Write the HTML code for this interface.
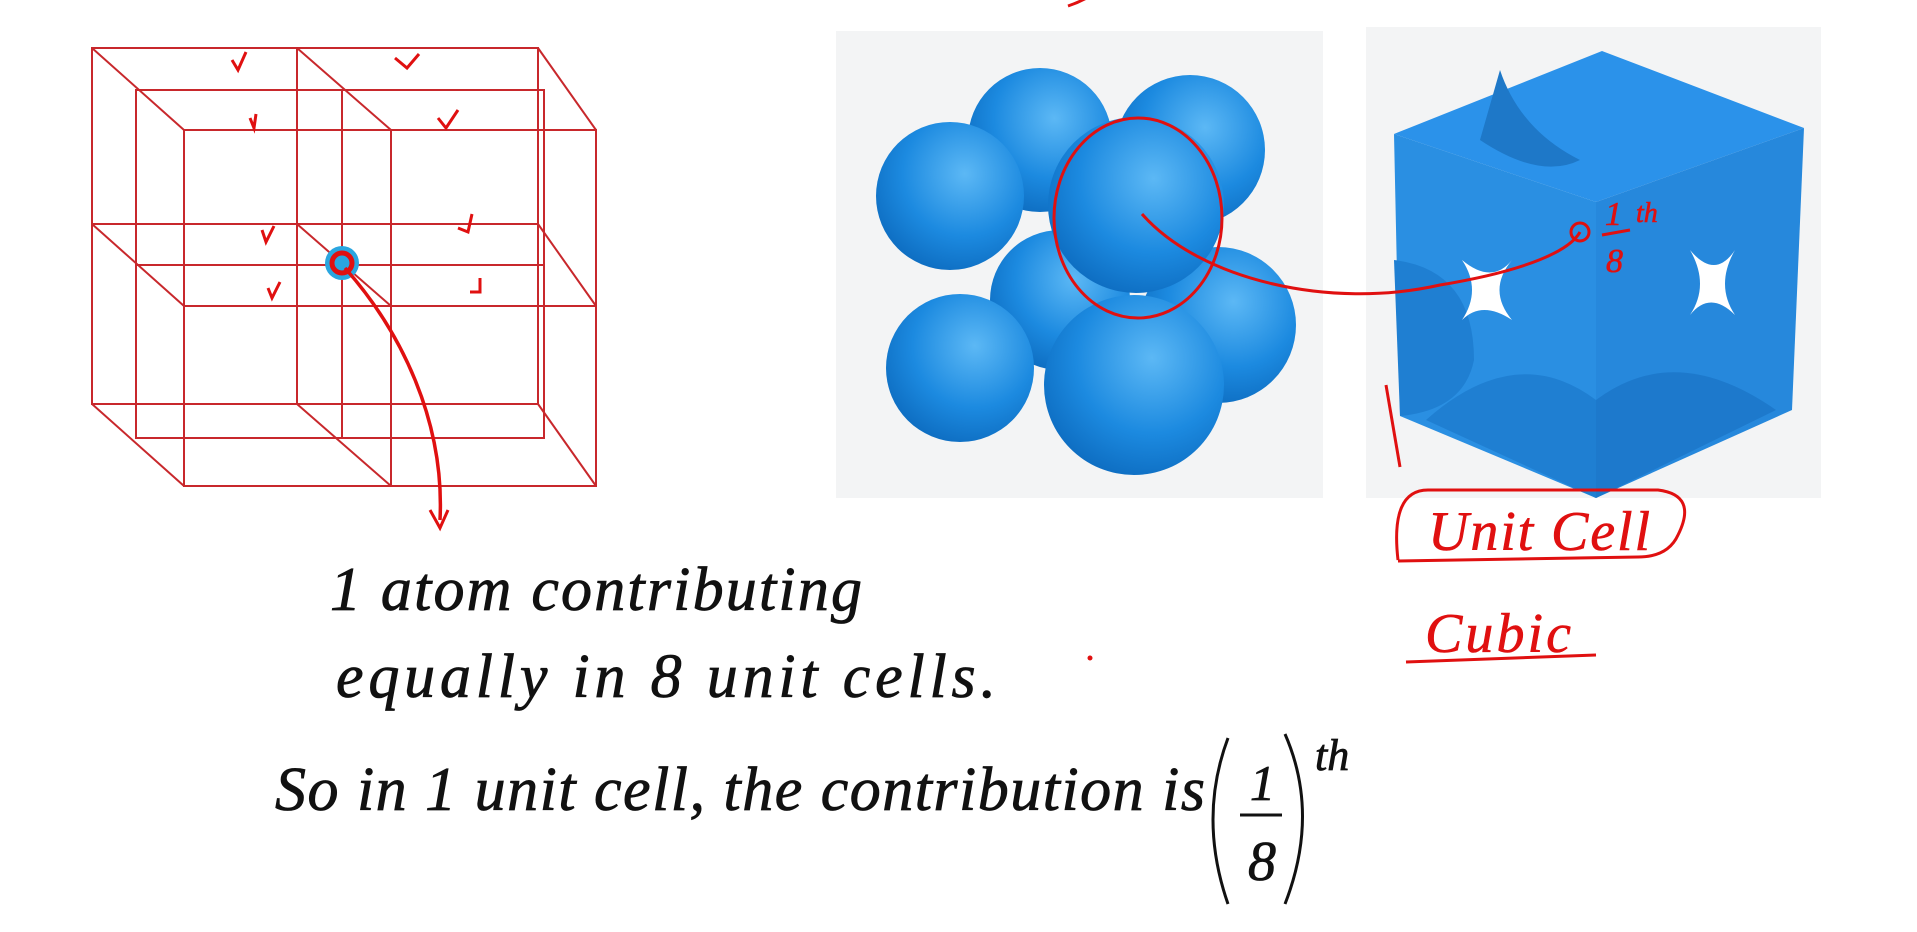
<!DOCTYPE html>
<html><head><meta charset="utf-8"><style>
html,body{margin:0;padding:0;background:#fff;}
svg{display:block;}
.hw{font-family:"Liberation Serif",serif;font-style:italic;fill:#111;stroke:#111;stroke-width:0.8;}
.rt{font-family:"Liberation Serif",serif;font-style:italic;fill:#e01010;stroke:#e01010;stroke-width:0.6;}
</style></head><body>
<svg width="1917" height="932" viewBox="0 0 1917 932">
<defs>
<radialGradient id="sph" cx="0.6" cy="0.35" r="0.7">
<stop offset="0" stop-color="#5cb8f5"/><stop offset="0.6" stop-color="#1c8ae0"/><stop offset="1" stop-color="#0d6cc0"/>
</radialGradient>
</defs>
<g stroke="#c8282c" stroke-width="2" fill="none">
<rect x="92" y="48" width="446" height="356"/>
<line x1="297" y1="48" x2="297" y2="404"/><line x1="92" y1="224" x2="538" y2="224"/>
<rect x="136" y="90" width="408" height="348"/>
<line x1="342" y1="90" x2="342" y2="438"/><line x1="136" y1="265" x2="544" y2="265"/>
<rect x="184" y="130" width="412" height="356"/>
<line x1="391" y1="130" x2="391" y2="486"/><line x1="184" y1="306" x2="596" y2="306"/>
<line x1="92" y1="48" x2="184" y2="130"/><line x1="297" y1="48" x2="391" y2="130"/><line x1="538" y1="48" x2="596" y2="130"/>
<line x1="92" y1="224" x2="184" y2="306"/><line x1="297" y1="224" x2="391" y2="306"/><line x1="538" y1="224" x2="596" y2="306"/>
<line x1="92" y1="404" x2="184" y2="486"/><line x1="297" y1="404" x2="391" y2="486"/><line x1="538" y1="404" x2="596" y2="486"/>
</g>
<g stroke="#e01010" stroke-width="3" fill="none">
<path d="M232 60 l6 10 l8 -18"/><path d="M395 58 l12 10 l12 -14"/><path d="M250 118 l4 10 l2 -14"/><path d="M438 118 l8 10 l12 -18"/>
<path d="M262 230 l4 12 l8 -16"/><path d="M458 228 l10 4 l4 -18"/><path d="M268 288 l4 10 l8 -16"/><path d="M470 292 l10 0 l0 -14"/>
</g>
<circle cx="342" cy="263" r="17" fill="#2aa6e0"/>
<circle cx="342" cy="263" r="10" fill="none" stroke="#e01010" stroke-width="5"/>
<path d="M345 268 C400 330 445 420 440 520" stroke="#e01010" stroke-width="3.5" fill="none"/>
<path d="M430 510 l10 18 l8 -18" stroke="#e01010" stroke-width="3" fill="none"/>
<rect x="836" y="31" width="487" height="467" fill="#f3f4f5"/>
<g>
<circle cx="1040" cy="140" r="72" fill="url(#sph)"/>
<circle cx="1190" cy="150" r="75" fill="url(#sph)"/>
<circle cx="1218" cy="325" r="78" fill="url(#sph)"/>
<circle cx="1060" cy="300" r="70" fill="url(#sph)"/>
<circle cx="950" cy="196" r="74" fill="url(#sph)"/>
<circle cx="960" cy="368" r="74" fill="url(#sph)"/>
<circle cx="1134" cy="385" r="90" fill="url(#sph)"/>
<circle cx="1136" cy="205" r="88" fill="url(#sph)"/>
</g>
<ellipse cx="1138" cy="218" rx="84" ry="100" fill="none" stroke="#e01010" stroke-width="3"/>
<path d="M1068 6 q12 -4 22 -10" stroke="#e01010" stroke-width="3" fill="none"/>
<rect x="1366" y="27" width="455" height="471" fill="#f3f4f5"/>
<g>
<polygon points="1602,51 1804,128 1596,202 1394,134" fill="#2b92ea"/>
<polygon points="1394,134 1596,202 1596,498 1400,416" fill="#2a8fe2"/>
<polygon points="1596,202 1804,128 1792,410 1596,498" fill="#2688dc"/>
<path d="M1394 260 q80 10 80 100 q-10 50 -74 56z" fill="#1f7fd2"/>
<path d="M1596 400 q-80 -60 -170 20 l170 78z" fill="#1f7fd2"/>
<path d="M1596 400 q80 -60 180 10 l-180 88z" fill="#1d79cc"/>
<path d="M1500 70 q20 60 80 90 q-40 20 -100 -20z" fill="#1e78c8"/>
<path d="M1462 260 q30 25 50 0 q-25 30 0 60 q-30 -20 -50 0 q20 -30 0 -60z" fill="#fff"/>
<path d="M1690 250 q25 30 45 0 q-20 35 0 65 q-25 -25 -45 0 q20 -30 0 -65z" fill="#fff"/>
</g>
<path d="M1142 214 C1200 280 1330 310 1440 285 C1530 270 1570 250 1580 232" stroke="#e01010" stroke-width="3" fill="none"/>
<circle cx="1580" cy="232" r="9" fill="none" stroke="#e01010" stroke-width="3"/>
<text class="rt" x="1605" y="225" font-size="34">1</text>
<line x1="1602" y1="235" x2="1630" y2="230" stroke="#e01010" stroke-width="3"/>
<text class="rt" x="1606" y="272" font-size="34">8</text>
<text class="rt" x="1636" y="222" font-size="28">th</text>
<line x1="1386" y1="385" x2="1400" y2="467" stroke="#e01010" stroke-width="3"/>
<path d="M1398 560 q-8 -70 30 -70 l230 0 q40 5 20 45 q-10 22 -40 22 l-240 4" stroke="#e01010" stroke-width="3" fill="none"/>
<text class="rt" x="1428" y="550" font-size="56" textLength="222">Unit Cell</text>
<text class="rt" x="1425" y="652" font-size="56" textLength="146">Cubic</text>
<line x1="1406" y1="662" x2="1596" y2="655" stroke="#e01010" stroke-width="3"/>
<text class="hw" x="330" y="610" font-size="62" textLength="532">1 atom contributing</text>
<text class="hw" x="336" y="697" font-size="62" textLength="660">equally in 8 unit cells.</text>
<text class="hw" x="275" y="810" font-size="62" textLength="930">So in 1 unit cell, the contribution is</text>
<path d="M1228 738 q-30 80 0 166" stroke="#111" stroke-width="3" fill="none"/>
<path d="M1285 734 q35 80 0 170" stroke="#111" stroke-width="3" fill="none"/>
<text class="hw" x="1250" y="800" font-size="50">1</text>
<line x1="1240" y1="815" x2="1282" y2="815" stroke="#111" stroke-width="3"/>
<text class="hw" x="1248" y="880" font-size="56">8</text>
<text class="hw" x="1315" y="770" font-size="44">th</text>
<circle cx="1090" cy="658" r="2.5" fill="#e01010"/>
</svg>
</body></html>
